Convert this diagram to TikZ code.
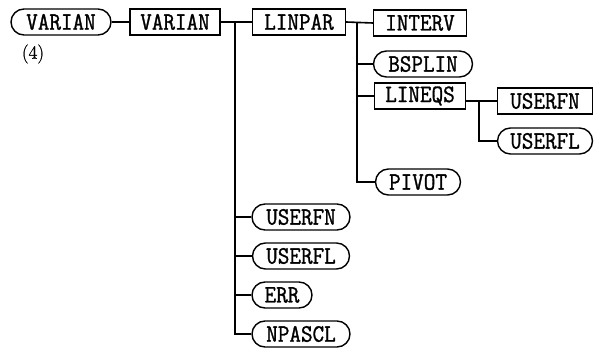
\documentclass[tikz,border=0pt]{standalone}
\usepackage{fontspec}
\newfontfamily\tfont[FakeBold=1.2,FakeStretch=0.9]{Latin Modern Mono}
\newfontfamily\rfont[FakeBold=0.8]{Latin Modern Roman}
\usetikzlibrary{shapes.misc}
\begin{document}
\begin{tikzpicture}[x=1pt,y=-1pt,
  every node/.style={line width=1.4pt, inner sep=0pt, font=\tfont\fontsize{25}{27}\selectfont},
  rbox/.style={draw, rectangle, minimum height=26pt},
  oval/.style={draw, rounded rectangle, minimum height=26pt},
  conn/.style={line width=1.6pt}]
\useasboundingbox (0,0) rectangle (601,358);
% nodes
\node[oval, minimum width=100pt] (v0) at (61,22) {VARIAN};
\node[font=\rfont\fontsize{19}{21}\selectfont] (lab) at (33,54) {(4)};
\node[rbox, minimum width=90pt] (v1) at (175,22) {VARIAN};
\node[rbox, minimum width=93pt] (linpar) at (299,22) {LINPAR};
\node[rbox, minimum width=93pt] (interv) at (420,23) {INTERV};
\node[oval, minimum width=99pt] (bsplin) at (423,64) {BSPLIN};
\node[rbox, minimum width=91pt] (lineqs) at (420,96) {LINEQS};
\node[rbox, minimum width=95pt] (userfnA) at (545,101) {USERFN};
\node[oval, minimum width=95pt] (userflA) at (545,141) {USERFL};
\node[oval, minimum width=85pt] (pivot) at (418,182) {PIVOT};
\node[oval, minimum width=98pt] (userfnB) at (301,217) {USERFN};
\node[oval, minimum width=97pt] (userflB) at (301,256) {USERFL};
\node[oval, minimum width=60pt] (err) at (282,295) {ERR};
\node[oval, minimum width=98pt] (npascl) at (301,334) {NPASCL};
% bus coordinates
\coordinate (b1) at (235,22);
\coordinate (b2) at (357,22);
\coordinate (b3) at (479,101);
% connectors
\draw[conn] (v0.east) -- (v1.west);
\draw[conn] (v1.east) -- (linpar.west);
\draw[conn] (b1) |- (npascl.west);
\draw[conn] (userfnB.west) -- (userfnB.west -| b1);
\draw[conn] (userflB.west) -- (userflB.west -| b1);
\draw[conn] (err.west) -- (err.west -| b1);
\draw[conn] (linpar.east) -- (interv.west);
\draw[conn] (b2) |- (pivot.west);
\draw[conn] (bsplin.west) -- (bsplin.west -| b2);
\draw[conn] (lineqs.west) -- (lineqs.west -| b2);
\draw[conn] (lineqs.east |- userfnA.west) -- (userfnA.west);
\draw[conn] (b3) |- (userflA.west);
\end{tikzpicture}
\end{document}
